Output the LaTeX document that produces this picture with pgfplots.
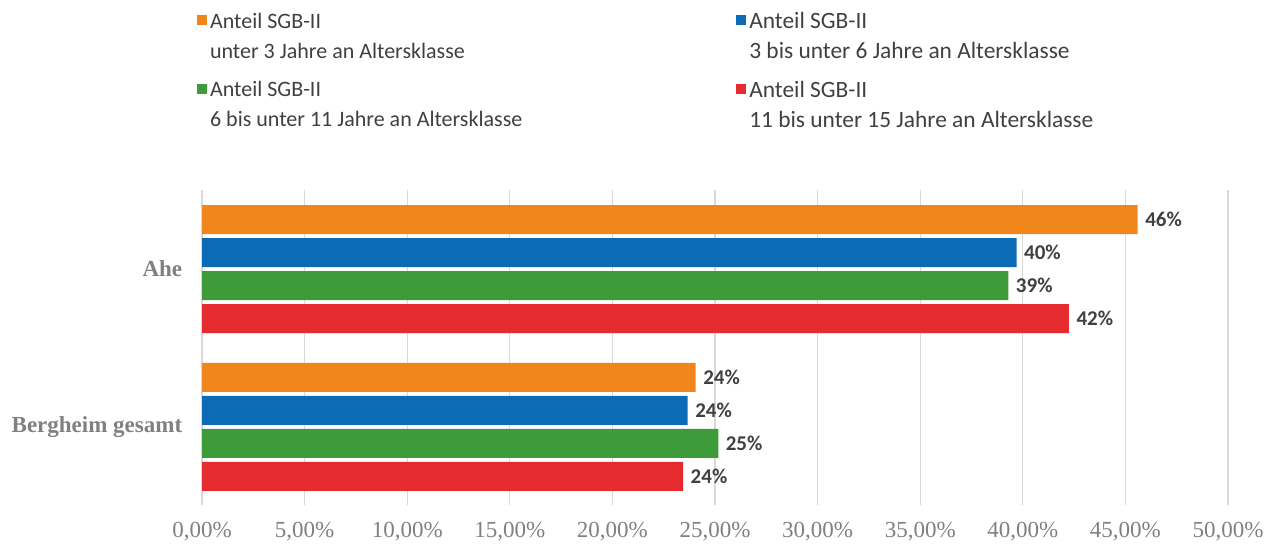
\documentclass[border=0pt]{standalone}
\usepackage{pgfplots}
\pgfplotsset{compat=1.18}
\usepackage{fontspec}
\setmainfont{Carlito}
\newfontfamily\tnr{Liberation Serif}
\definecolor{cOr}{HTML}{F0861C}
\definecolor{cBl}{HTML}{0B6CB5}
\definecolor{cGr}{HTML}{3E9B3A}
\definecolor{cRd}{HTML}{E52B2D}
\definecolor{gridgray}{HTML}{D9D9D9}
\definecolor{tickgray}{HTML}{808080}
\definecolor{valgray}{HTML}{404040}
\definecolor{legtext}{HTML}{404040}
\newcommand{\rc}{\fontsize{23.4}{30}\selectfont}
\begin{document}
\begin{tikzpicture}
\begin{axis}[name=ax,
  scale only axis, width=1026pt, height=315pt,
  xmin=0, xmax=50, ymin=-0.494, ymax=1.5,
  axis line style={draw=none}, tick style={draw=none},
  xmajorgrids, grid style={color=gridgray, line width=1.3pt},
  xtick={0,5,...,50},
  xticklabels={{0,00\%},{5,00\%},{10,00\%},{15,00\%},{20,00\%},{25,00\%},{30,00\%},{35,00\%},{40,00\%},{45,00\%},{50,00\%}},
  ytick={0,1}, yticklabels={Bergheim gesamt, Ahe},
  xticklabel style={font=\fontsize{23}{23}\tnr, text=tickgray, yshift=-14pt},
  yticklabel style={font=\fontsize{23}{23}\tnr\bfseries, text=tickgray, xshift=-12pt},
  xbar, bar width=29pt,
  nodes near coords, point meta=explicit symbolic,
  every node near coord/.append style={anchor=west, font=\fontsize{21}{21}\selectfont\bfseries, text=valgray, xshift=4pt},
  legend columns=2,
  legend cell align=left,
  legend style={at={(-0.005,1.568)}, anchor=north west, draw=none, fill=none, inner sep=0pt,
    font=\fontsize{22}{30}\selectfont, text=legtext,
    nodes={align=left, inner sep=1pt},
    row sep=19pt,
    /tikz/column 1/.style={column sep=2pt},
    /tikz/column 3/.style={column sep=2pt},
    /tikz/column 2/.style={column sep=213pt}},
  legend image code/.code={\fill[#1] (0pt,11pt) rectangle (10pt,21pt);},
]
\addplot[draw=none, fill=cOr, bar shift=49.5pt] coordinates {(45.6,1) [46\%] (24.06,0) [24\%]};
\addlegendentry{Anteil SGB-II\\unter 3 Jahre an Altersklasse}
\addplot[draw=none, fill=cBl, bar shift=16.5pt] coordinates {(39.7,1) [40\%] (23.67,0) [24\%]};
\addlegendentry{\rc Anteil SGB-II\\\rc 3 bis unter 6 Jahre an Altersklasse}
\addplot[draw=none, fill=cGr, bar shift=-16.5pt] coordinates {(39.3,1) [39\%] (25.16,0) [25\%]};
\addlegendentry{Anteil SGB-II\\6 bis unter 11 Jahre an Altersklasse}
\addplot[draw=none, fill=cRd, bar shift=-49.5pt] coordinates {(42.25,1) [42\%] (23.45,0) [24\%]};
\addlegendentry{\rc Anteil SGB-II\\\rc 11 bis unter 15 Jahre an Altersklasse}
\end{axis}
\pgfresetboundingbox
\path[use as bounding box] ([shift={(-202pt,-39pt)}]ax.south west) rectangle ([shift={(41pt,190pt)}]ax.north east);
\end{tikzpicture}
\end{document}
